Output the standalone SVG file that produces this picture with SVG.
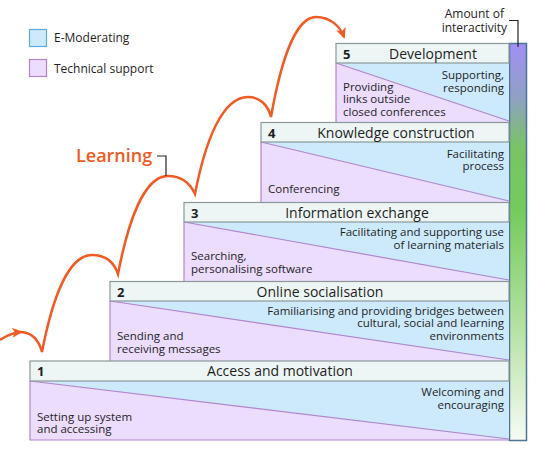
<svg xmlns="http://www.w3.org/2000/svg" width="538" height="454" viewBox="0 0 538 454">
<defs>
<linearGradient id="bar" x1="0" y1="0" x2="0" y2="1">
<stop offset="0" stop-color="#a28ff6"/>
<stop offset="0.14" stop-color="#8fa1c2"/>
<stop offset="0.26" stop-color="#79c466"/>
<stop offset="0.42" stop-color="#74cb5c"/>
<stop offset="0.72" stop-color="#b6e2a4"/>
<stop offset="1" stop-color="#f6fbf4"/>
</linearGradient>
<marker id="ah" markerWidth="12" markerHeight="12" refX="9" refY="5" orient="auto" markerUnits="userSpaceOnUse">
<path d="M0,0 L11,5 L0,10 L3,5 z" fill="#f15a24"/>
</marker>
<style>
text{font-family:"Open Sans","Noto Sans",sans-serif;fill:#1e1e1e}
.hd{fill:#eef6f5;stroke:#8a9898;stroke-width:1.2}
.blue{fill:#cdeafc}
.purp{fill:#ecdcfd}
.diag{stroke:#b484cc;stroke-width:1.2;fill:none}
.edge{fill:none;stroke:#b484cc;stroke-width:1.2}
.num{font-size:13px;font-weight:bold}
.ttl{font-size:14px;text-anchor:middle}
.bt{font-size:11.5px}
.r{text-anchor:end}
.arc{fill:none;stroke:#f15a24;stroke-width:2.5}
.lead{fill:none;stroke:#222;stroke-width:1.2}
</style>
</defs>

<g id="legend">
<rect x="29.5" y="29.5" width="17" height="17" fill="#cdeafc" stroke="#5aacde" stroke-width="1.2"/>
<text x="54" y="42" class="bt" style="font-size:12px">E-Moderating</text>
<rect x="29.5" y="59.5" width="17" height="17" fill="#ecdcfd" stroke="#b484cc" stroke-width="1.2"/>
<text x="54" y="73" class="bt" style="font-size:12px">Technical support</text>
</g>

<g id="interactivity">
<rect x="509.5" y="43.5" width="17" height="397" fill="url(#bar)" stroke="#4d7396" stroke-width="1.5"/>
<text x="504" y="18" class="r" style="font-size:12px">Amount of</text>
<text x="507" y="32" class="r" style="font-size:12px">interactivity</text>
</g>

<g id="step5">
<rect x="336" y="63" width="173" height="59" class="blue"/>
<polygon points="336,63 509,122 336,122" class="purp"/>
<line x1="336" y1="63" x2="509" y2="121" class="diag"/>
<path d="M336,63 V122" class="edge"/>
<rect x="336" y="43.5" width="173" height="19.5" class="hd"/>
<text x="343" y="59" class="num">5</text>
<text x="433" y="59" class="ttl">Development</text>
<text x="504" y="79" class="bt r">Supporting,</text>
<text x="504" y="91.5" class="bt r">responding</text>
<text x="343" y="91" class="bt">Providing</text>
<text x="343" y="103" class="bt">links outside</text>
<text x="343" y="116" class="bt">closed conferences</text>
</g>

<g id="step4">
<rect x="261" y="142" width="248" height="60" class="blue"/>
<polygon points="261,142 509,202 261,202" class="purp"/>
<line x1="261" y1="142" x2="509" y2="201" class="diag"/>
<path d="M261,142 V202" class="edge"/>
<rect x="261" y="122.5" width="248" height="19.5" class="hd"/>
<text x="268" y="138" class="num">4</text>
<text x="396" y="138" class="ttl">Knowledge construction</text>
<text x="504" y="157.5" class="bt r">Facilitating</text>
<text x="504" y="170" class="bt r">process</text>
<text x="268" y="193" class="bt">Conferencing</text>
</g>

<g id="step3">
<rect x="184" y="222" width="325" height="59" class="blue"/>
<polygon points="184,222 509,281 184,281" class="purp"/>
<line x1="184" y1="222" x2="509" y2="280" class="diag"/>
<path d="M184,222 V281" class="edge"/>
<rect x="184" y="202.5" width="325" height="19.5" class="hd"/>
<text x="191" y="218" class="num">3</text>
<text x="357" y="218" class="ttl">Information exchange</text>
<text x="504" y="235.5" class="bt r">Facilitating and supporting use</text>
<text x="504" y="248.5" class="bt r">of learning materials</text>
<text x="191" y="260" class="bt">Searching,</text>
<text x="191" y="272.5" class="bt">personalising software</text>
</g>

<g id="step2">
<rect x="110" y="301" width="399" height="60" class="blue"/>
<polygon points="110,301 509,361 110,361" class="purp"/>
<line x1="110" y1="301" x2="509" y2="360" class="diag"/>
<path d="M110,301 V361" class="edge"/>
<rect x="110" y="281.5" width="399" height="19.5" class="hd"/>
<text x="117" y="297" class="num">2</text>
<text x="320" y="297" class="ttl">Online socialisation</text>
<text x="504" y="314.5" class="bt r">Familiarising and providing bridges between</text>
<text x="504" y="327" class="bt r">cultural, social and learning</text>
<text x="504" y="339.5" class="bt r">environments</text>
<text x="117" y="340" class="bt">Sending and</text>
<text x="117" y="352.5" class="bt">receiving messages</text>
</g>

<g id="step1">
<rect x="30" y="381" width="479" height="59" class="blue"/>
<polygon points="30,381 509,440 30,440" class="purp"/>
<line x1="30" y1="381" x2="509" y2="439" class="diag"/>
<path d="M30,381 V440 H509" class="edge"/>
<rect x="30" y="361" width="479" height="20" class="hd"/>
<text x="37" y="376" class="num">1</text>
<text x="280" y="376" class="ttl">Access and motivation</text>
<text x="504" y="396" class="bt r">Welcoming and</text>
<text x="504" y="408.5" class="bt r">encouraging</text>
<text x="37" y="420.5" class="bt">Setting up system</text>
<text x="37" y="433" class="bt">and accessing</text>
</g>

<g id="learning">
<text x="76" y="162" style="font-size:18px;font-weight:600;fill:#f15a24">Learning</text>
</g>

<g id="connectors">
<path d="M0,340 Q10,333 21,332" class="arc" marker-end="url(#ah)"/>
<path d="M21,332 Q37,333 42,352 C52,300 68,255 92,255 C105,255 114,262 118,274 C128,222 144,176 168,176 C181,176 190,183 195,194 C205,142 222,97 248,97 C260,97 268,105 271,117 C281,60 296,17 316,17 C330,17 340,26 344,37" class="arc" marker-end="url(#ah)"/>
<path d="M157,156 H166 V176" class="lead"/>
<path d="M509,20.5 H518 V47" class="lead"/>
</g>
</svg>
